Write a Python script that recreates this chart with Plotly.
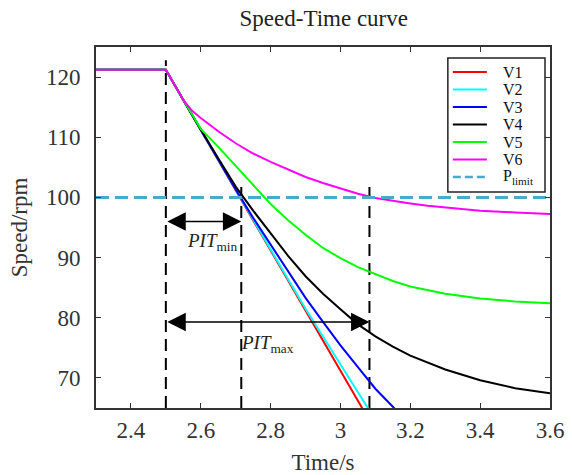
import plotly.graph_objects as go

# Time samples (s)
t = [2.3, 2.5, 2.55, 2.575, 2.6, 2.65, 2.7, 2.75, 2.8, 2.85, 2.9, 2.95,
     3.0, 3.05, 3.1, 3.15, 3.2, 3.25, 3.3, 3.4, 3.5, 3.6]

# Speed responses (rpm)
v1 = [121.2, 121.2, 116.2, 113.7, 111.2, 106.2, 101.2, 96.2, 91.2, 86.2, 81.2, 76.2,
      71.2, 66.2, 61.2, None, None, None, None, None, None, None]
v2 = [121.2, 121.2, 116.2, 113.7, 111.2, 106.2, 101.2, 96.2, 91.3, 86.4, 81.5, 76.8,
      72.1, 67.5, 63.0, None, None, None, None, None, None, None]
v3 = [121.2, 121.2, 116.2, 113.7, 111.2, 106.2, 101.3, 96.6, 92.1, 87.6, 83.3, 79.3,
      75.4, 71.8, 68.2, 65.2, 62.2, None, None, None, None, None]
v4 = [121.2, 121.2, 116.2, 113.7, 111.3, 106.5, 101.8, 97.8, 94.1, 90.3, 86.9, 84.0,
      81.4, 78.9, 76.9, 75.2, 73.7, 72.5, 71.4, 69.6, 68.3, 67.45]
v5 = [121.2, 121.2, 116.2, 113.7, 111.4, 108.4, 105.2, 102.0, 98.9, 96.2, 93.8, 91.6,
      89.9, 88.4, 87.2, 86.1, 85.2, 84.6, 84.0, 83.2, 82.7, 82.4]
v6 = [121.2, 121.2, 116.2, 114.4, 113.2, 111.0, 109.0, 107.3, 105.9, 104.6, 103.4, 102.4,
      101.5, 100.6, 99.9, 99.4, 99.0, 98.6, 98.3, 97.8, 97.5, 97.25]

names = ["V1", "V2", "V3", "V4", "V5", "V6"]
colors = ["#ff0000", "#00ffff", "#0000ff", "#000000", "#00ff00", "#ff00ff"]
series = [v1, v2, v3, v4, v5, v6]

P_LIMIT = 100.0
P_COLOR = "#4aaac8"
T_START = 2.5        # start of deceleration
T_PIT_MIN = 2.716    # first curve reaches the limit
T_PIT_MAX = 3.083    # last curve reaches the limit
Y_ARROW_MIN = 96.0
Y_ARROW_MAX = 79.3

X_RANGE = [2.3, 3.6]
Y_RANGE = [65, 125]
x_ticks = [2.4, 2.6, 2.8, 3.0, 3.2, 3.4, 3.6]
x_tick_text = ["2.4", "2.6", "2.8", "3", "3.2", "3.4", "3.6"]
y_ticks = [70, 80, 90, 100, 110, 120]

FONT = "Liberation Serif, Times New Roman, serif"

fig = go.Figure()

# vertical reference lines marking the PIT intervals
vlines = [(T_START, 122.8), (T_PIT_MIN, 102.4), (T_PIT_MAX, 102.4)]
for xv, ytop in vlines:
    fig.add_trace(go.Scatter(
        x=[xv, xv], y=[Y_RANGE[0], ytop], mode="lines",
        line=dict(color="black", width=2, dash="12px,7px"),
        showlegend=False, hoverinfo="skip"))

for name, col, vals in zip(names, colors, series):
    fig.add_trace(go.Scatter(
        x=t, y=vals, mode="lines", name=name, showlegend=False,
        line=dict(color=col, width=2), connectgaps=False))

fig.add_trace(go.Scatter(
    x=X_RANGE, y=[P_LIMIT, P_LIMIT], mode="lines", showlegend=False,
    name="P<sub>limit</sub>",
    line=dict(color=P_COLOR, width=3, dash="13px,6px")))

# double-headed arrows for PIT_min and PIT_max
for x_end, y_arr in [(T_PIT_MIN, Y_ARROW_MIN), (T_PIT_MAX, Y_ARROW_MAX)]:
    fig.add_annotation(
        x=x_end, y=y_arr, ax=T_START, ay=y_arr,
        xref="x", yref="y", axref="x", ayref="y",
        text="", showarrow=True, arrowhead=2, startarrowhead=2,
        arrowside="end+start", arrowsize=2.3, startarrowsize=2.3,
        arrowwidth=1.6, arrowcolor="black")

fig.add_annotation(
    x=2.634, y=92.6, xref="x", yref="y", showarrow=False,
    text="<i>PIT</i><sub>min</sub>",
    font=dict(family=FONT, size=19, color="#222"))
fig.add_annotation(
    x=2.79, y=75.6, xref="x", yref="y", showarrow=False,
    text="<i>PIT</i><sub>max</sub>",
    font=dict(family=FONT, size=19, color="#222"))

# compact boxed legend in the upper-right corner of the axes
leg_x0, leg_x1, leg_y0, leg_y1 = 0.775, 0.989, 0.598, 0.9695
fig.add_shape(type="rect", xref="paper", yref="paper",
              x0=leg_x0, x1=leg_x1, y0=leg_y0, y1=leg_y1,
              line=dict(color="#222", width=1.5), fillcolor="white", layer="above")
leg_labels = names + ["P<sub>limit</sub>"]
leg_colors = colors + [P_COLOR]
leg_dash = ["solid"] * len(names) + ["8px,4px"]
leg_width = [2] * len(names) + [2.5]
row_top, row_step = 0.931, 0.0485
for i, (lab, col, dsh, lw) in enumerate(zip(leg_labels, leg_colors, leg_dash, leg_width)):
    yy = row_top - i * row_step
    fig.add_shape(type="line", xref="paper", yref="paper",
                  x0=0.786, x1=0.861, y0=yy, y1=yy,
                  line=dict(color=col, width=lw, dash=dsh), layer="above")
    fig.add_annotation(x=0.895, y=yy, xref="paper", yref="paper",
                       xanchor="left", yanchor="middle", showarrow=False,
                       height=16, valign="middle", borderpad=0,
                       text=lab, font=dict(family=FONT, size=16, color="#111"))

axis_common = dict(
    showgrid=False, zeroline=False, showline=True, mirror="ticks",
    linecolor="#333333", linewidth=1.6, ticks="inside", ticklen=5,
    tickwidth=1.3, tickcolor="#333333", automargin=False,
    tickfont=dict(family=FONT, size=23, color="#333333"))

fig.update_layout(
    width=572, height=475,
    margin=dict(l=96, r=22, t=47, b=67, autoexpand=False),
    paper_bgcolor="white", plot_bgcolor="white",
    showlegend=False,
    title=dict(text="Speed-Time curve", x=0.566, xanchor="center",
               y=0.962, yanchor="middle", automargin=False,
               font=dict(family=FONT, size=23, color="#222")),
    xaxis=dict(range=X_RANGE, tickvals=x_ticks, ticktext=x_tick_text,
               ticklabelstandoff=1,
               title=dict(text="Time/s", standoff=12,
                          font=dict(family=FONT, size=23, color="#333")),
               **axis_common),
    yaxis=dict(range=Y_RANGE, tickvals=y_ticks, ticklabelstandoff=9,
               title=dict(text="Speed/rpm", standoff=12,
                          font=dict(family=FONT, size=23, color="#333")),
               **axis_common),
)

fig.write_html("out.html")
